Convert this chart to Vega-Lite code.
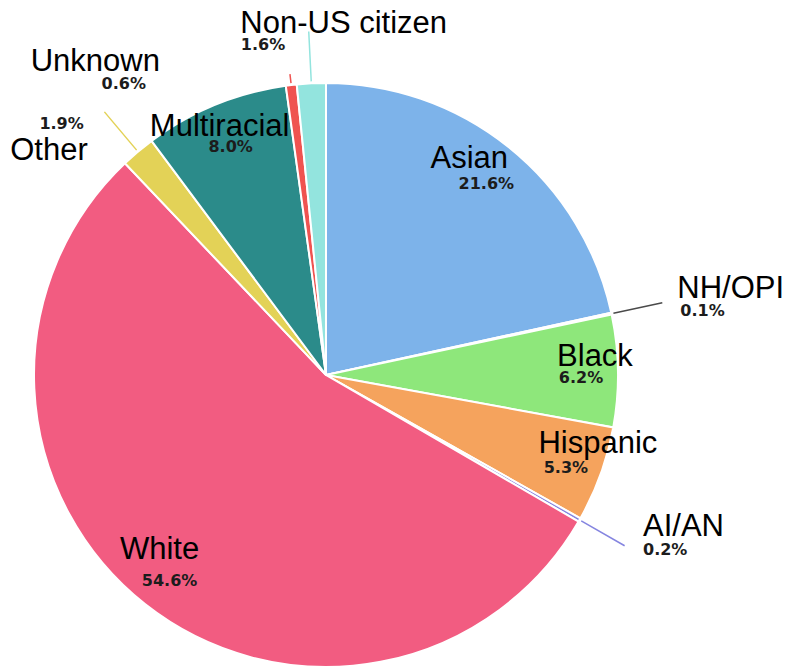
{
  "$schema": "https://vega.github.io/schema/vega-lite/v6.json",
  "autosize": "none",
  "width": 584,
  "height": 584,
  "padding": {"left": 34, "top": 83, "right": 171, "bottom": 1},
  "background": "white",
  "config": {"view": {"stroke": null}},
  "data": {
    "values": [
      {"order": 1, "name": "Asian", "value": 21.6, "pct": "21.6%"},
      {"order": 2, "name": "NH/OPI", "value": 0.1, "pct": "0.1%"},
      {"order": 3, "name": "Black", "value": 6.2, "pct": "6.2%"},
      {"order": 4, "name": "Hispanic", "value": 5.3, "pct": "5.3%"},
      {"order": 5, "name": "AI/AN", "value": 0.2, "pct": "0.2%"},
      {"order": 6, "name": "White", "value": 54.6, "pct": "54.6%"},
      {"order": 7, "name": "Other", "value": 1.9, "pct": "1.9%"},
      {"order": 8, "name": "Multiracial", "value": 8.0, "pct": "8.0%"},
      {"order": 9, "name": "Unknown", "value": 0.6, "pct": "0.6%"},
      {"order": 10, "name": "Non-US citizen", "value": 1.6, "pct": "1.6%"}
    ]
  },
  "encoding": {
    "theta": {"field": "value", "type": "quantitative", "stack": true},
    "order": {"field": "order", "type": "quantitative"}
  },
  "layer": [
    {
      "mark": {"type": "arc", "outerRadius": 292, "stroke": "white", "strokeWidth": 2},
      "encoding": {
        "color": {
          "field": "name", "type": "nominal", "legend": null,
          "scale": {
            "domain": ["Asian", "NH/OPI", "Black", "Hispanic", "AI/AN", "White", "Other", "Multiracial", "Unknown", "Non-US citizen"],
            "range": ["#7db3ea", "#4a4a4a", "#8ee77b", "#f5a35d", "#8585e0", "#f25c81", "#e3d257", "#2b8b8a", "#ef5350", "#93e4de"]
          }
        }
      }
    },
    {
      "mark": {"type": "arc", "filled": false, "innerRadius": 294, "outerRadius": 344, "padAngle": 0.6, "strokeWidth": 1.5},
      "encoding": {
        "color": {"field": "name", "type": "nominal", "legend": null},
        "strokeOpacity": {"condition": {"test": "datum.value < 2 && datum.name !== 'Unknown'", "value": 1}, "value": 0}
      }
    },
    {
      "mark": {"type": "arc", "filled": false, "innerRadius": 294, "outerRadius": 303, "padAngle": 0.6, "strokeWidth": 1.5},
      "encoding": {
        "color": {"field": "name", "type": "nominal", "legend": null},
        "strokeOpacity": {"condition": {"test": "datum.name === 'Unknown'", "value": 1}, "value": 0}
      }
    },
    {
      "mark": {"type": "text", "radius": 254, "dx": 1, "dy": 7, "font": "DejaVu Sans", "fontWeight": "bold", "fontSize": 16, "color": "#1c1c1c"},
      "encoding": {"text": {"condition": {"test": "datum.value >= 5", "field": "pct"}, "value": ""}}
    },
    {
      "mark": {"type": "text", "radius": 254, "dx": -16, "dy": -18, "font": "Liberation Sans", "fontSize": 31, "color": "black"},
      "encoding": {"text": {"condition": {"test": "datum.name === 'Asian'", "field": "name"}, "value": ""}}
    },
    {
      "mark": {"type": "text", "radius": 254, "dx": 15, "dy": -14, "font": "Liberation Sans", "fontSize": 31, "color": "black"},
      "encoding": {"text": {"condition": {"test": "datum.name === 'Black'", "field": "name"}, "value": ""}}
    },
    {
      "mark": {"type": "text", "radius": 254, "dx": 33, "dy": -17, "font": "Liberation Sans", "fontSize": 31, "color": "black"},
      "encoding": {"text": {"condition": {"test": "datum.name === 'Hispanic'", "field": "name"}, "value": ""}}
    },
    {
      "mark": {"type": "text", "radius": 254, "dx": -9, "dy": -24, "font": "Liberation Sans", "fontSize": 31, "color": "black"},
      "encoding": {"text": {"condition": {"test": "datum.name === 'White'", "field": "name"}, "value": ""}}
    },
    {
      "mark": {"type": "text", "radius": 254, "dx": -10, "dy": -13, "font": "Liberation Sans", "fontSize": 31, "color": "black"},
      "encoding": {"text": {"condition": {"test": "datum.name === 'Multiracial'", "field": "name"}, "value": ""}}
    },
    {
      "mark": {"type": "text", "radius": 345, "align": "left", "dx": 14, "dy": -13, "font": "Liberation Sans", "fontSize": 31, "color": "black"},
      "encoding": {"text": {"condition": {"test": "datum.name === 'NH/OPI'", "field": "name"}, "value": ""}}
    },
    {
      "mark": {"type": "text", "radius": 345, "align": "left", "dx": 17, "dy": 9, "font": "DejaVu Sans", "fontWeight": "bold", "fontSize": 16, "color": "#1c1c1c"},
      "encoding": {"text": {"condition": {"test": "datum.name === 'NH/OPI'", "field": "pct"}, "value": ""}}
    },
    {
      "mark": {"type": "text", "radius": 345, "align": "left", "dx": 17.5, "dy": -19, "font": "Liberation Sans", "fontSize": 31, "color": "black"},
      "encoding": {"text": {"condition": {"test": "datum.name === 'AI/AN'", "field": "name"}, "value": ""}}
    },
    {
      "mark": {"type": "text", "radius": 345, "align": "left", "dx": 17.5, "dy": 4, "font": "DejaVu Sans", "fontWeight": "bold", "fontSize": 16, "color": "#1c1c1c"},
      "encoding": {"text": {"condition": {"test": "datum.name === 'AI/AN'", "field": "pct"}, "value": ""}}
    },
    {
      "mark": {"type": "text", "radius": 345, "align": "right", "dx": -16, "dy": 40, "font": "Liberation Sans", "fontSize": 31, "color": "black"},
      "encoding": {"text": {"condition": {"test": "datum.name === 'Other'", "field": "name"}, "value": ""}}
    },
    {
      "mark": {"type": "text", "radius": 345, "align": "right", "dx": -20, "dy": 13, "font": "DejaVu Sans", "fontWeight": "bold", "fontSize": 16, "color": "#1c1c1c"},
      "encoding": {"text": {"condition": {"test": "datum.name === 'Other'", "field": "pct"}, "value": ""}}
    },
    {
      "mark": {"type": "text", "radius": 303, "align": "right", "dx": -130, "dy": -12, "font": "Liberation Sans", "fontSize": 31, "color": "black"},
      "encoding": {"text": {"condition": {"test": "datum.name === 'Unknown'", "field": "name"}, "value": ""}}
    },
    {
      "mark": {"type": "text", "radius": 303, "align": "right", "dx": -144, "dy": 10, "font": "DejaVu Sans", "fontWeight": "bold", "fontSize": 16, "color": "#1c1c1c"},
      "encoding": {"text": {"condition": {"test": "datum.name === 'Unknown'", "field": "pct"}, "value": ""}}
    },
    {
      "mark": {"type": "text", "radius": 345, "align": "center", "dx": 35, "dy": -6, "font": "Liberation Sans", "fontSize": 31, "color": "black"},
      "encoding": {"text": {"condition": {"test": "datum.name === 'Non-US citizen'", "field": "name"}, "value": ""}}
    },
    {
      "mark": {"type": "text", "radius": 345, "align": "right", "dx": -23.5, "dy": 15, "font": "DejaVu Sans", "fontWeight": "bold", "fontSize": 16, "color": "#1c1c1c"},
      "encoding": {"text": {"condition": {"test": "datum.name === 'Non-US citizen'", "field": "pct"}, "value": ""}}
    }
  ]
}
